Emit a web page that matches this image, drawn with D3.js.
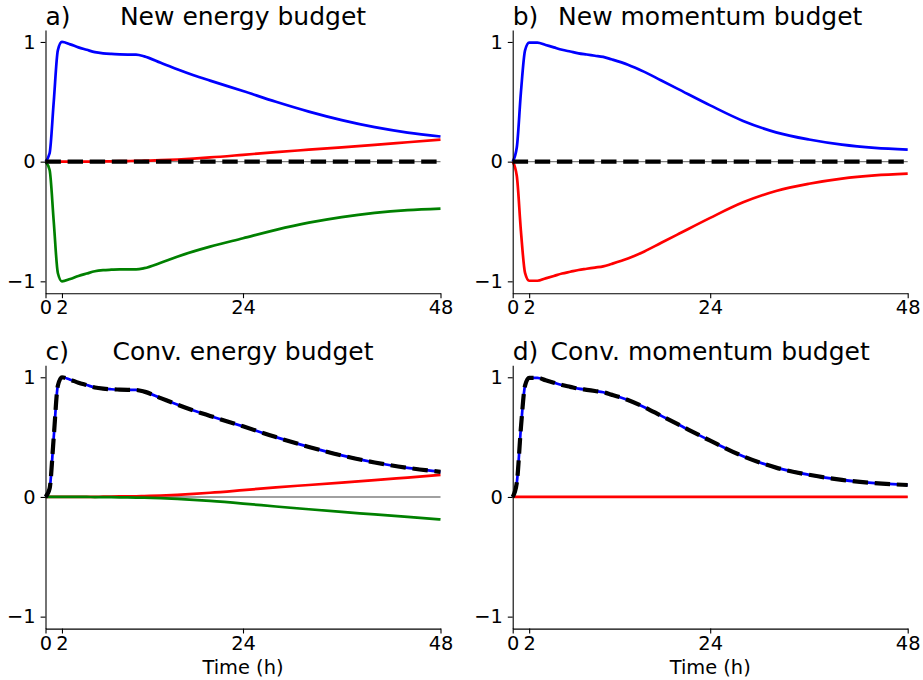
<!DOCTYPE html>
<html>
<head>
<meta charset="utf-8">
<script src="https://cdn.jsdelivr.net/npm/d3@7"></script>
<style>
  body { margin: 0; background: #fff; }
  svg { display: block; font-family: "DejaVu Sans", sans-serif; }
</style>
</head>
<body>
<svg id="chart"></svg>
<script>
// hours
const time = [0, 0.5, 1, 1.5, 2, 3, 4, 5, 6, 7, 8, 9, 10, 11, 12, 14, 16, 18, 20, 24, 28, 32, 36, 40, 44, 48];

// energy budget terms (normalised)
const energyBlue  = [0, 0.07, 0.5, 0.93, 1.0, 0.98, 0.955, 0.935, 0.915, 0.905, 0.9, 0.897, 0.895, 0.894, 0.88, 0.826, 0.772, 0.722, 0.677, 0.59, 0.5, 0.418, 0.347, 0.288, 0.243, 0.21];
const energyRed   = [0, 0, 0, 0, 0, 0, 0, 0, 0.001, 0.002, 0.003, 0.004, 0.005, 0.006, 0.008, 0.012, 0.018, 0.026, 0.035, 0.057, 0.08, 0.1, 0.12, 0.14, 0.162, 0.184];
const energyGreen = [0, -0.07, -0.5, -0.93, -1.0, -0.98, -0.955, -0.935, -0.916, -0.907, -0.903, -0.9, -0.9, -0.9, -0.89, -0.845, -0.795, -0.75, -0.71, -0.64, -0.57, -0.51, -0.463, -0.428, -0.405, -0.392];
const convGreen   = [0, 0, 0, 0, 0, 0, 0, 0, -0.001, -0.001, -0.002, -0.003, -0.004, -0.005, -0.006, -0.01, -0.016, -0.024, -0.033, -0.055, -0.08, -0.103, -0.125, -0.146, -0.167, -0.188];

// momentum budget terms (normalised)
const momBlue = [0, 0.12, 0.58, 0.93, 0.995, 0.995, 0.975, 0.955, 0.935, 0.92, 0.905, 0.895, 0.885, 0.875, 0.855, 0.81, 0.75, 0.68, 0.61, 0.47, 0.34, 0.245, 0.185, 0.142, 0.115, 0.10];
const momRed  = [0, -0.12, -0.58, -0.93, -0.995, -0.995, -0.975, -0.955, -0.935, -0.92, -0.905, -0.895, -0.885, -0.875, -0.855, -0.81, -0.75, -0.68, -0.61, -0.47, -0.34, -0.245, -0.185, -0.142, -0.115, -0.10];

const zeros = time.map(() => 0);
const newEnergyTotal = zeros;
const convEnergyTotal = energyBlue;
const newMomTotal = zeros;
const convMomTotal = momBlue;

const xTicks = [0, 2, 24, 48];
const yTicks = [-1, 0, 1];

const width = 923, height = 680;
const pw = 395, ph = 263.3;

const panels = [
  { tag: 'a)', title: 'New energy budget', left: 45.5, top: 30, xlabel: false,
    lines: [[energyBlue, 'blue'], [energyRed, 'red'], [energyGreen, 'green']], total: newEnergyTotal },
  { tag: 'b)', title: 'New momentum budget', left: 512.7, top: 30, xlabel: false,
    lines: [[momBlue, 'blue'], [momRed, 'red']], total: newMomTotal },
  { tag: 'c)', title: 'Conv. energy budget', left: 45.5, top: 365.3, xlabel: true,
    lines: [[energyBlue, 'blue'], [energyRed, 'red'], [convGreen, 'green']], total: convEnergyTotal },
  { tag: 'd)', title: 'Conv. momentum budget', left: 512.7, top: 365.3, xlabel: true,
    lines: [[momBlue, 'blue'], [zeros, 'red']], total: convMomTotal }
];

const colors = { blue: '#0000ff', red: '#ff0000', green: '#008000' };

const svg = d3.select('#chart').attr('width', width).attr('height', height);
svg.append('rect').attr('width', width).attr('height', height).attr('fill', '#fff');

const x = d3.scaleLinear().domain([0, 48]).range([0, pw]);
const y = d3.scaleLinear().domain([-1.1, 1.1]).range([ph, 0]);

const line = d3.line()
    .x(d => x(d[0]))
    .y(d => y(d[1]))
    .curve(d3.curveMonotoneX);

panels.forEach(p => {
    const g = svg.append('g').attr('transform', `translate(${p.left},${p.top})`);

    // zero reference line
    g.append('line')
        .attr('x1', x(0)).attr('x2', x(48))
        .attr('y1', y(0)).attr('y2', y(0))
        .attr('stroke', '#808080').attr('stroke-width', 1.4);

    p.lines.forEach(([vals, c]) => {
        g.append('path')
            .datum(time.map((t, i) => [t, vals[i]]))
            .attr('d', line)
            .attr('fill', 'none')
            .attr('stroke', colors[c])
            .attr('stroke-width', 2.7)
            .attr('stroke-linejoin', 'round');
    });

    g.append('path')
        .datum(time.map((t, i) => [t, p.total[i]]))
        .attr('d', line)
        .attr('fill', 'none')
        .attr('stroke', '#000')
        .attr('stroke-width', 4.2)
        .attr('stroke-dasharray', '15.4,6.7');

    const yAxis = g.append('g')
        .call(d3.axisLeft(y).tickValues(yTicks).tickSize(4.9).tickPadding(4.9).tickSizeOuter(0)
            .tickFormat(d => d < 0 ? '\u2212' + Math.abs(d) : String(d)));
    const xAxis = g.append('g')
        .attr('transform', `translate(0,${ph})`)
        .call(d3.axisBottom(x).tickValues(xTicks).tickSize(4.9).tickPadding(2.4).tickSizeOuter(0));

    [yAxis, xAxis].forEach(a => {
        a.selectAll('text').attr('font-size', '19.4px').attr('font-family', 'DejaVu Sans').attr('fill', '#000');
        a.selectAll('line').attr('stroke-width', 1.1);
        a.select('.domain').attr('stroke-width', 1.1);
    });

    g.append('text')
        .attr('x', 0).attr('y', -5)
        .attr('font-size', '25px')
        .text(p.tag);
    g.append('text')
        .attr('x', pw / 2).attr('y', -5)
        .attr('text-anchor', 'middle')
        .attr('font-size', '25px')
        .text(p.title);

    if (p.xlabel) {
        g.append('text')
            .attr('x', pw / 2).attr('y', ph + 45)
            .attr('text-anchor', 'middle')
            .attr('font-size', '19.4px')
            .text('Time (h)');
    }
});
</script>
</body>
</html>
